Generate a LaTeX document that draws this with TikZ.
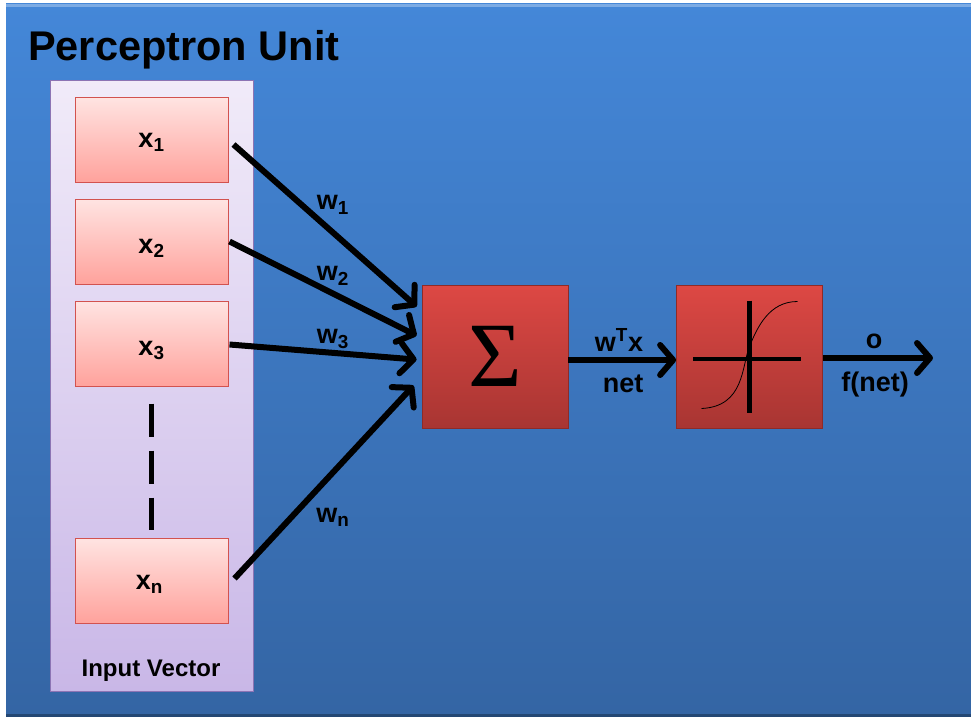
\documentclass[tikz,border=0pt]{standalone}
\usepackage{fontspec}
\setmainfont{Liberation Sans}
\newfontfamily\sigmafont{Liberation Serif}
\usetikzlibrary{arrows.meta,calc}
\definecolor{bgtop}{HTML}{4487D8}
\definecolor{bgbot}{HTML}{3465A4}
\definecolor{lavtop}{HTML}{F1EBF9}
\definecolor{lavbot}{HTML}{C9B7E7}
\definecolor{lavedge}{HTML}{8C74B4}
\definecolor{pinktop}{HTML}{FFE4E2}
\definecolor{pinkbot}{HTML}{FFA29C}
\definecolor{pinkedge}{HTML}{D2524F}
\definecolor{redtop}{HTML}{DD4844}
\definecolor{redbot}{HTML}{A83532}
\definecolor{rededge}{HTML}{8E2B28}
\tikzset{
  inbox/.style={draw=pinkedge, line width=1pt, top color=pinktop, bottom color=pinkbot,
    minimum width=153pt, minimum height=85pt, inner sep=0pt, font=\fontsize{27}{27}\selectfont\bfseries},
  opbox/.style={draw=rededge, line width=0.8pt, top color=redtop, bottom color=redbot,
    minimum width=146pt, minimum height=143pt, inner sep=0pt},
  conn/.style={line width=6pt, -{Straight Barb[round,length=13pt,width=30pt]}},
  lbl/.style={font=\fontsize{27}{27}\selectfont\bfseries, inner sep=0pt},
  inlbl/.style={font=\fontsize{27}{27}\selectfont\bfseries, inner sep=0pt},
}
\begin{document}
\begin{tikzpicture}[x=1pt,y=-1pt]
\useasboundingbox (0,0) rectangle (971,717);
\fill[white] (0,0) rectangle (971,717);
\shade[top color=bgtop, bottom color=bgbot] (6,4) rectangle (971,715);
\fill[bgtop!70!white] (6,4) rectangle (971,7);
\fill[bgbot!70!black] (6,714) rectangle (971,717);
\node[anchor=base west, font=\fontsize{41.5}{42}\selectfont\bfseries, inner sep=0pt] (title) at (28,60) {Perceptron Unit};
% input vector panel
\node[draw=lavedge, line width=1pt, top color=lavtop, bottom color=lavbot,
  minimum width=203pt, minimum height=611pt, inner sep=0pt] (panel) at (151.5,385.5) {};
\node[font=\fontsize{24}{24}\selectfont\bfseries, inner sep=0pt] (ivl) at (151,671) {Input Vector};
\node[inbox] (x1) at (151.5,139.5) {};
\node[inbox] (x2) at (151.5,241.5) {};
\node[inbox] (x3) at (151.5,343.5) {};
\node[inbox] (xn) at (151.5,580.5) {};
\node[inlbl] (x1l) at ($(x1.center)+(0,3)$) {x\textsubscript{1}};
\node[inlbl] (x2l) at ($(x2.center)+(0,7)$) {x\textsubscript{2}};
\node[inlbl] (x3l) at ($(x3.center)+(0,7)$) {x\textsubscript{3}};
\node[inlbl] (xnl) at ($(xn.center)+(-2,4)$) {x\textsubscript{n}};
\draw[line width=5pt, dash pattern=on 33pt off 14pt] ($(x3.south)+(0,17)$) -- ($(xn.north)+(0,-8)$);
% operator boxes
\node[opbox] (sig) at (495,356.5) {\sigmafont\fontsize{92}{92}\selectfont\raisebox{-3pt}{Σ}};
\node[opbox] (act) at (749.5,356.5) {};
\draw[line width=4.5pt] ($(act.west)+(17,2.5)$) -- ($(act.east)+(-22,2.5)$);
\draw[line width=4.5pt] ($(act.north)+(0,16)$) -- ($(act.south)+(0,-15)$);
\draw[line width=0.8pt] ($(act.center)+(-48,52)$) .. controls ($(act.center)+(-5,50)$) and ($(act.center)+(-8,10)$) .. ($(act.center)+(0,-10)$)
  .. controls ($(act.center)+(8,-30)$) and ($(act.center)+(20,-55)$) .. ($(act.center)+(48,-55)$);
% connectors
\draw[conn] ($(x1.east)+(5,5)$) -- ($(sig.north west)+(-5,22)$);
\draw[conn] ($(x2.east)+(1,0)$) -- ($(sig.north west)+(-5,51)$);
\draw[conn] ($(x3.east)+(1,1)$) -- ($(sig.north west)+(-5,75)$);
\draw[conn] ($(xn.east)+(6,-2)$) -- ($(sig.north west)+(-8,101)$);
\draw[conn] ($(sig.east)+(0,3.5)$) -- ($(act.west)+(0,3.5)$);
\coordinate (out) at (933,358);
\draw[conn] ($(act.east)+(0,1.5)$) -- (out);
% labels
\node[lbl] (w1) at (333,205) {w\textsubscript{1}};
\node[lbl] (w2) at (333,276) {w\textsubscript{2}};
\node[lbl] (w3) at (333,339) {w\textsubscript{3}};
\node[lbl] (wn) at (333,517) {w\textsubscript{n}};
\node[lbl] (wtx) at (619,340) {w\textsuperscript{T}x};
\node[lbl] (net) at (623,384) {net};
\node[lbl] (o) at (874,341) {o};
\node[lbl] (fnet) at (875,385) {f(net)};
\end{tikzpicture}
\end{document}
